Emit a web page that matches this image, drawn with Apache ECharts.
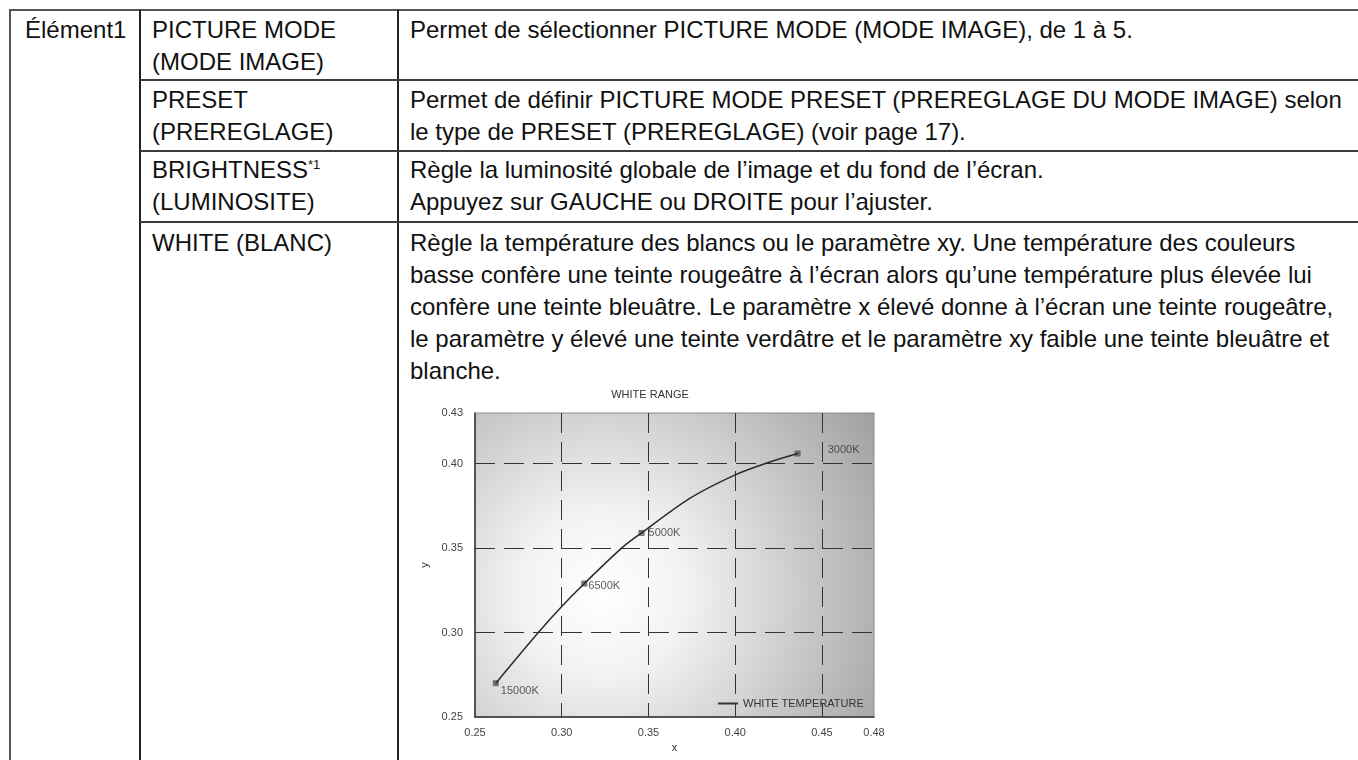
<!DOCTYPE html>
<html>
<head>
<meta charset="utf-8">
<script src="https://cdn.jsdelivr.net/npm/echarts@6/dist/echarts.min.js"></script>
<style>
  html, body { margin: 0; padding: 0; background: #fff; }
  body { width: 1358px; height: 760px; overflow: hidden; position: relative;
         font-family: 'Liberation Sans', Arial, Helvetica, sans-serif; color: #111; }
  .ln { position: absolute; background: #3c3c3c; }
  .tx { position: absolute; font-size: 24px; line-height: 32px; white-space: nowrap; }
  .tx sup { font-size: 13px; vertical-align: 9px; line-height: 0; }
  #chart { position: absolute; left: 380px; top: 380px; width: 540px; height: 380px; }
</style>
</head>
<body>
<!-- table rules -->
<div class="ln" style="left:9px;top:9px;width:1349px;height:2px;background:#555"></div>
<div class="ln" style="left:9px;top:9px;width:2px;height:751px;background:#555"></div>
<div class="ln" style="left:139px;top:10px;width:2px;height:750px;background:#222"></div>
<div class="ln" style="left:397px;top:10px;width:2px;height:750px;background:#222"></div>
<div class="ln" style="left:140px;top:79px;width:1218px;height:2px"></div>
<div class="ln" style="left:140px;top:150px;width:1218px;height:2px"></div>
<div class="ln" style="left:140px;top:221px;width:1218px;height:2px"></div>

<div class="tx" style="left:25px;top:14px">Élément1</div>

<div class="tx" style="left:152px;top:14px">PICTURE MODE<br>(MODE IMAGE)</div>
<div class="tx" style="left:152px;top:84px">PRESET<br>(PREREGLAGE)</div>
<div class="tx" style="left:152px;top:154px">BRIGHTNESS<sup>*1</sup><br>(LUMINOSITE)</div>
<div class="tx" style="left:152px;top:227px">WHITE (BLANC)</div>

<div class="tx" style="left:410px;top:14px">Permet de sélectionner PICTURE MODE (MODE IMAGE), de 1 à 5.</div>
<div class="tx" style="left:410px;top:84px">Permet de définir PICTURE MODE PRESET (PREREGLAGE DU MODE IMAGE) selon<br>le type de PRESET (PREREGLAGE) (voir page 17).</div>
<div class="tx" style="left:410px;top:154px">Règle la luminosité globale de l’image et du fond de l’écran.<br>Appuyez sur GAUCHE ou DROITE pour l’ajuster.</div>
<div class="tx" style="left:410px;top:227px">Règle la température des blancs ou le paramètre xy. Une température des couleurs<br>basse confère une teinte rougeâtre à l’écran alors qu’une température plus élevée lui<br>confère une teinte bleuâtre. Le paramètre x élevé donne à l’écran une teinte rougeâtre,<br>le paramètre y élevé une teinte verdâtre et le paramètre xy faible une teinte bleuâtre et<br>blanche.</div>

<div id="chart"></div>

<script>
// marked colour temperatures (CIE x, y)
const temps = ['15000K', '6500K', '5000K', '3000K']
const xValues = [0.262, 0.313, 0.346, 0.436]
const yValues = [0.270, 0.329, 0.359, 0.406]

// the white temperature curve
const curveX = [0.262, 0.2865, 0.300, 0.313, 0.3345, 0.346, 0.374, 0.400, 0.417, 0.436]
const curveY = [0.270, 0.300, 0.3154, 0.329, 0.350, 0.359, 0.3796, 0.3934, 0.400, 0.406]

// where each point's label sits
const labelPos = {
  '15000K': { distance: 2, offset: [0, 8] },
  '6500K': { distance: 1, offset: [0, 2] },
  '5000K': { distance: 4, offset: [0, 0] },
  '3000K': { distance: 27, offset: [0, -4] }
}

const markData = temps.map((t, i) => ({
  name: t,
  value: [xValues[i], yValues[i]],
  label: labelPos[t]
}))
const curveData = curveX.map((x, i) => [x, curveY[i]])

const myChart = echarts.init(document.getElementById('chart'))

const dashed = { type: [20, 9], color: '#333', width: 1 }

myChart.setOption({
  animation: false,
  textStyle: { fontFamily: "'Liberation Sans', Arial, sans-serif" },
  title: {
    text: 'WHITE RANGE',
    left: 'center',
    top: 9,
    padding: 0,
    textStyle: { fontSize: 11, fontWeight: 'normal', color: '#333' }
  },
  legend: {
    data: [{ name: 'WHITE TEMPERATURE', icon: 'rect' }],
    left: 338,
    top: 318,
    padding: 0,
    itemWidth: 20,
    itemHeight: 2,
    itemStyle: { color: '#333' },
    textStyle: { fontSize: 11, color: '#333' }
  },
  grid: {
    show: true,
    left: 95,
    top: 33,
    width: 399,
    height: 304,
    borderColor: '#8c8c8c',
    borderWidth: 1,
    backgroundColor: {
      type: 'radial', x: 0.32, y: 0.59, r: 1.1,
      colorStops: [
        { offset: 0, color: '#ffffff' },
        { offset: 0.25, color: '#f2f2f2' },
        { offset: 1, color: '#9c9c9c' }
      ]
    }
  },
  xAxis: {
    type: 'value',
    min: 0.25,
    max: 0.48,
    interval: 0.05,
    name: 'x',
    nameLocation: 'middle',
    nameGap: 18,
    nameTextStyle: { fontSize: 11, color: '#333' },
    axisLine: { show: true, onZero: false, lineStyle: { color: '#333', width: 1.5 } },
    axisTick: { show: false },
    axisLabel: { fontSize: 11, color: '#444', margin: 10, formatter: v => v.toFixed(2) },
    splitLine: { show: true, showMinLine: false, showMaxLine: false, lineStyle: dashed }
  },
  yAxis: {
    type: 'value',
    min: 0.25,
    max: 0.43,
    interval: 0.05,
    name: 'y',
    nameLocation: 'middle',
    nameGap: 40,
    nameTextStyle: { fontSize: 11, color: '#333' },
    axisLine: { show: true, onZero: false, lineStyle: { color: '#333', width: 1.5 } },
    axisTick: { show: false },
    axisLabel: { fontSize: 11, color: '#444', margin: 12, formatter: v => v.toFixed(2) },
    splitLine: { show: true, showMinLine: false, showMaxLine: false, lineStyle: dashed }
  },
  series: [
    {
      name: 'WHITE TEMPERATURE',
      type: 'line',
      smooth: 0.3,
      data: curveData,
      symbol: 'none',
      color: '#333',
      lineStyle: { color: '#2a2a2a', width: 1.5 }
    },
    {
      name: 'marks',
      type: 'scatter',
      data: markData,
      symbol: 'rect',
      symbolSize: 6,
      itemStyle: { color: '#555' },
      label: {
        show: true,
        position: 'right',
        formatter: '{b}',
        fontSize: 11,
        color: '#333'
      }
    }
  ]
})
</script>
</body>
</html>
